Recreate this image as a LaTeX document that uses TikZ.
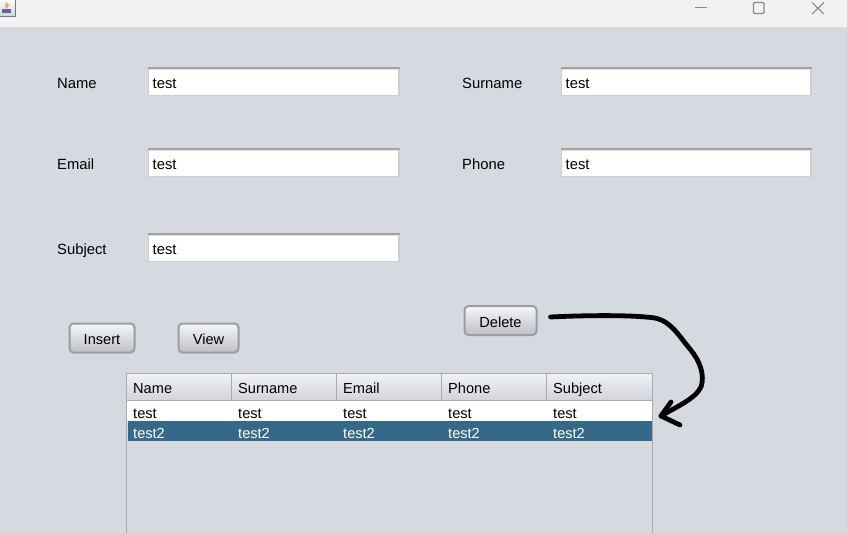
\documentclass[tikz,border=0pt]{standalone}
\usepackage{fontspec}
\setmainfont{Liberation Sans}
\usetikzlibrary{calc}
\definecolor{bgc}{HTML}{D6D9E0}
\definecolor{barc}{HTML}{F2F2F2}
\definecolor{selc}{HTML}{36688A}
\definecolor{edgec}{HTML}{A9ABB0}
\definecolor{fieldtop}{HTML}{A3A3A3}
\definecolor{fieldedge}{HTML}{CDCED2}
\definecolor{btnedge}{HTML}{9A9DA3}
\definecolor{hdrtop}{HTML}{F0F1F4}
\definecolor{hdrbot}{HTML}{D2D4DB}
\definecolor{wctl}{HTML}{8A8A8A}
\tikzset{
  lbl/.style={anchor=base west,inner sep=0pt,font=\fontsize{14.8}{16}\selectfont,text=black},
  cell/.style={lbl,font=\fontsize{14.6}{16}\selectfont},
  selcell/.style={cell,text=white},
  btn/.style={anchor=center,inner sep=0pt,text height=13pt,text depth=0pt,font=\fontsize{14.6}{16}\selectfont,rounded corners=4pt,draw=btnedge,line width=2pt,top color=hdrtop!60!white,bottom color=hdrbot!90!black,text=black},
  wline/.style={draw=wctl,line width=1.1pt},
  stroke/.style={draw=black,line width=4.8pt,line cap=round,line join=round}
}
\newcommand{\txtfield}[5]{%
  \fill[white] (#1,#2) rectangle (#3+.5,#4);
  \draw[fieldedge,line width=1.2pt] (#1+.5,#2) -- (#1+.5,#4-.2) -- (#3,#4-.2) -- (#3,#2);
  \draw[fieldtop,line width=1.6pt] (#1,#2+1) -- (#3+.5,#2+1);
  \draw[fieldtop!35!white,line width=1.5pt] (#1+1,#2+2.6) -- (#3-.5,#2+2.6);
  \node[lbl] at (#1+4.5,#2+21) {#5};
}
\begin{document}
\begin{tikzpicture}[x=1pt,y=-1pt]
\useasboundingbox (0,0) rectangle (847,533);
\fill[bgc] (0,0) rectangle (847,533);
\fill[barc] (0,0) rectangle (847,27);
% window icon
\draw[edgec!70!black,line width=.8pt,top color=white,bottom color=hdrbot] (-2,-2) rectangle (15,16);
\fill[orange!70!white] (6.5,2) -- (9,5) -- (7,9) -- (5,6) -- cycle;
\fill[gray!80!blue] (1.5,9) rectangle (10.5,13);
% window controls
\draw[wline] (695,7.5) -- (707,7.5);
\draw[wline,rounded corners=1pt] (753.5,2.5) rectangle (764,13.5);
\draw[wline] (812,2.5) -- (824,14);
\draw[wline] (824,2.5) -- (812,14);
% labels and fields
\node[lbl] (lname) at (57,88) {Name};
\node[lbl] (lsurname) at (462,88) {Surname};
\node[lbl] (lemail) at (57,169) {Email};
\node[lbl] (lphone) at (462,169) {Phone};
\node[lbl] (lsubject) at (57,254) {Subject};
\txtfield{148}{67}{399}{96}{test}
\txtfield{561}{67}{811}{96}{test}
\txtfield{148}{148}{399}{177}{test}
\txtfield{561}{148}{811}{177}{test}
\txtfield{148}{233}{399}{262}{test}
% buttons
\node[btn,minimum width=65pt,minimum height=29pt] (insert) at (102,338) {Insert};
\node[btn,minimum width=60pt,minimum height=29pt] (view) at (208.5,338) {View};
\node[btn,minimum width=72pt,minimum height=29pt] (delete) at (500.5,320.5) {Delete};
% table
\fill[white] (127,400) rectangle (652,421);
\shade[top color=hdrtop,bottom color=hdrbot] (127,374) rectangle (652,400);
\fill[selc] (128,421) rectangle (651.5,441);
\draw[edgec,line width=1pt] (231.5,374) -- (231.5,400) (336.5,374) -- (336.5,400) (441.5,374) -- (441.5,400) (546.5,374) -- (546.5,400);
\draw[edgec,line width=1pt] (127,400.5) -- (652,400.5);
\draw[edgec,line width=1.7pt] (126.5,533) -- (126.5,373.5) -- (652.5,373.5) -- (652.5,533);
\foreach \x/\h in {133/Name,238/Surname,343/Email,448/Phone,553/Subject}{
  \node[cell] at (\x,393) {\h};
  \node[cell] at (\x,418) {test};
  \node[selcell] at (\x,438) {test2};
}
% hand-drawn arrow
\coordinate (astart) at (550.5,317);
\coordinate (atip) at (661,416);
\coordinate (abarbA) at (671,402);
\coordinate (abarbB) at (680,425);
\draw[stroke] (astart) .. controls (580,315.5) and (630,314.5) .. (655,318)
  .. controls (672,322) and (678,335) .. (690,349)
  .. controls (700,361) and (705,375) .. (701,387)
  .. controls (695,399) and (676,407) .. (atip);
\draw[stroke] (abarbA) -- (atip) -- (abarbB);
\end{tikzpicture}
\end{document}
